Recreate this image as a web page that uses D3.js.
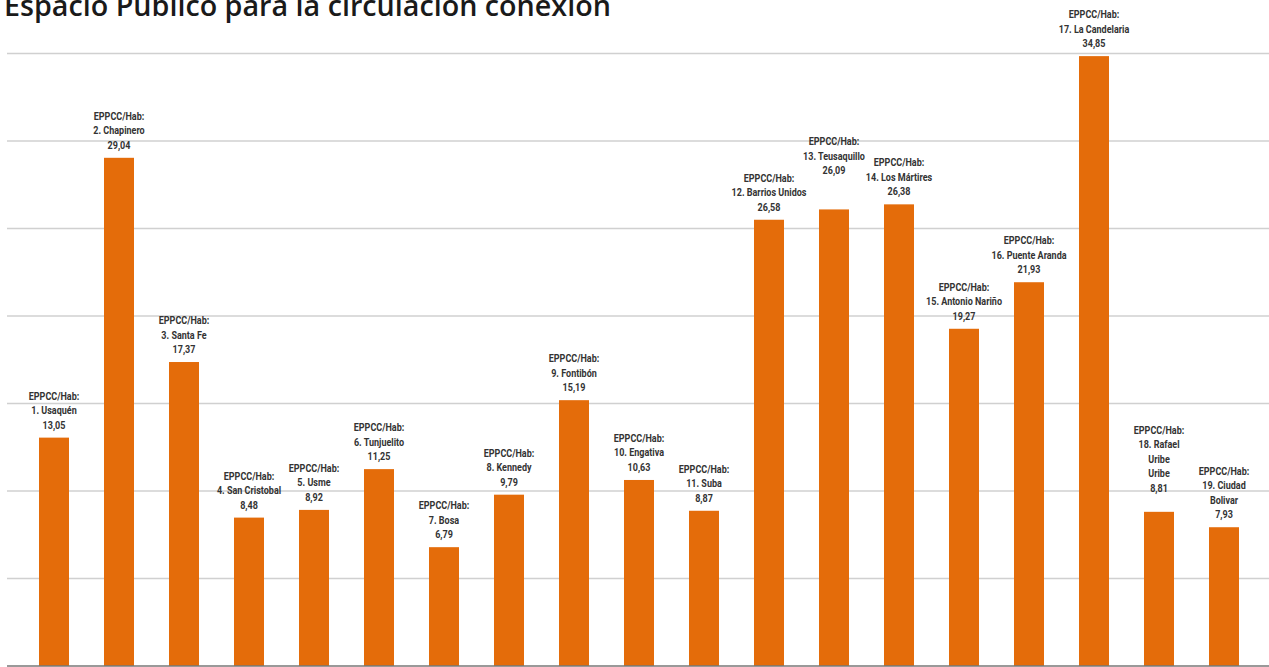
<!DOCTYPE html>
<html>
<head>
<meta charset="utf-8">
<script src="https://cdn.jsdelivr.net/npm/d3@7"></script>
<style>
  body { margin: 0; background: #fff; }
  .title { font-family: "Open Sans", sans-serif; font-weight: 600; font-size: 28.7px; fill: #1a1a1a; }
  .lab { font-family: Roboto, "DejaVu Sans Condensed", sans-serif; font-weight: bold; font-size: 11px; fill: #333; }
</style>
</head>
<body>
<main></main>
<script>
// localidades de Bogotá (etiquetas en varias líneas)
var names = [
  ["1. Usaquén"], ["2. Chapinero"], ["3. Santa Fe"], ["4. San Cristobal"], ["5. Usme"],
  ["6. Tunjuelito"], ["7. Bosa"], ["8. Kennedy"], ["9. Fontibón"], ["10. Engativa"],
  ["11. Suba"], ["12. Barrios Unidos"], ["13. Teusaquillo"], ["14. Los Mártires"],
  ["15. Antonio Nariño"], ["16. Puente Aranda"], ["17. La Candelaria"],
  ["18. Rafael", "Uribe", "Uribe"], ["19. Ciudad", "Bolivar"]
];
// altura de barra
var values = [13.05, 29.04, 17.37, 8.48, 8.92, 11.25, 6.79, 9.79, 15.19, 10.63,
              8.87, 25.5, 26.09, 26.38, 19.27, 21.93, 34.85, 8.81, 7.93];
// valor escrito en la etiqueta
var labels = ["13,05", "29,04", "17,37", "8,48", "8,92", "11,25", "6,79", "9,79", "15,19", "10,63",
              "8,87", "26,58", "26,09", "26,38", "19,27", "21,93", "34,85", "8,81", "7,93"];
var ticks = [5, 10, 15, 20, 25, 30, 35];

var w = 1269, h = 667;
var svg = d3.select("main").append("svg").attr("width", w).attr("height", h);

var x = d3.scaleBand()
          .domain(d3.range(values.length))
          .range([21.5, 1256.5])
          .paddingInner(35/65)
          .paddingOuter(35/130);
var y = d3.scaleLinear().domain([0, 35]).range([666, 53.5]);

// rejilla
svg.append("g").selectAll("line")
   .data(ticks).enter().append("line")
   .attr("x1", 7).attr("x2", w)
   .attr("y1", function(d){ return y(d); })
   .attr("y2", function(d){ return y(d); })
   .attr("stroke", "#d0d0d0").attr("stroke-width", 1.5);

// barras
svg.append("g").selectAll("rect")
   .data(values).enter().append("rect")
   .attr("x", function(d, i){ return x(i); })
   .attr("width", x.bandwidth())
   .attr("y", function(d){ return y(d); })
   .attr("height", function(d){ return y(0) - y(d); })
   .attr("fill", "#e46c0a");

// eje base
svg.append("line").attr("x1", 7).attr("x2", w).attr("y1", y(0)).attr("y2", y(0))
   .attr("stroke", "#777").attr("stroke-width", 1.5);

// algunas etiquetas suben para no chocar
var nudge = {12: -26, 17: -11};

// etiquetas (fuente condensada: se estrecha en horizontal)
var lab = svg.append("g").selectAll("text")
   .data(values).enter().append("text")
   .attr("class", "lab")
   .attr("text-anchor", "middle")
   .attr("transform", function(d, i){
     return "translate(" + (x(i) + x.bandwidth()/2) + ",0) scale(0.82,1)";
   });
lab.each(function(d, i){
  var lines = ["EPPCC/Hab:"].concat(names[i], [labels[i]]);
  var base = y(d) - 9 - (lines.length - 1) * 14.5 + (nudge[i] || 0);
  d3.select(this).selectAll("tspan")
    .data(lines).enter().append("tspan")
    .attr("x", 0)
    .attr("y", function(t, j){ return base + j * 14.5; })
    .text(function(t){ return t; });
});

svg.append("text").attr("class", "title").attr("x", 4).attr("y", 16)
   .text("Espacio Público para la circulación conexión");
</script>
</body>
</html>
